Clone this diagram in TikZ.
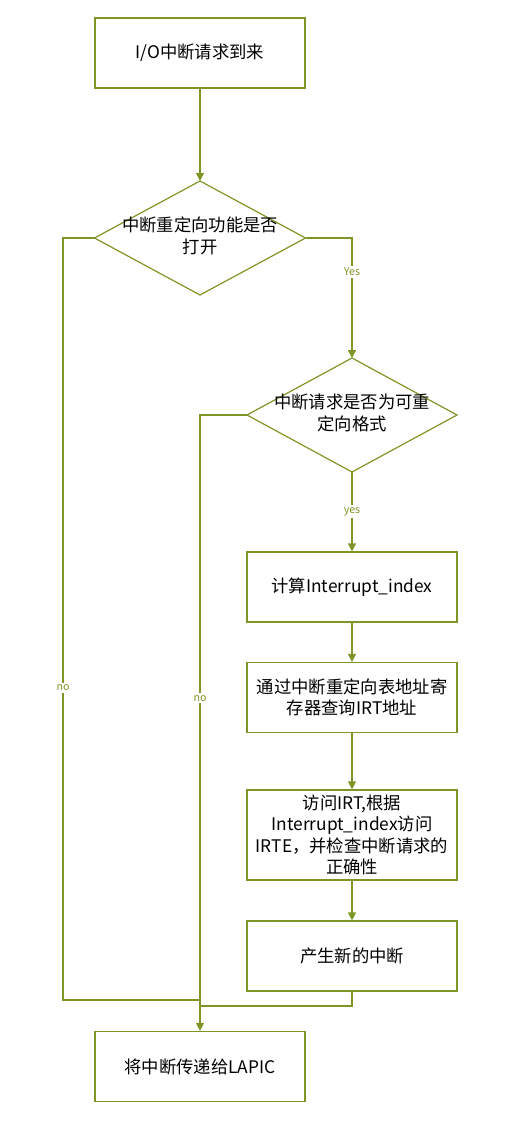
\documentclass[tikz,border=0pt]{standalone}
\usepackage{fontspec}
\setmainfont{Noto Sans CJK SC}
\usetikzlibrary{arrows.meta}

\definecolor{flowgreen}{RGB}{125,150,38}
\tikzset{
  box/.style={draw=flowgreen, line width=0.9pt, minimum width=157.5pt, minimum height=52.5pt,
    align=center, font=\fontsize{13}{16}\selectfont},
  dtext/.style={align=center, font=\fontsize{13}{16}\selectfont},
  line/.style={draw=flowgreen, line width=0.9pt},
  flow/.style={line, -{Triangle[width=6pt,length=6pt]}},
  lbl/.style={fill=white, text=flowgreen, inner sep=1.5pt, font=\fontsize{8}{9}\selectfont}
}

\begin{document}
\begin{tikzpicture}[x=0.75pt, y=-0.75pt]
  \useasboundingbox (0,0) rectangle (507,1124);

  \node [box] (start) at (200,53) {I/O中断请求到来};

  % first decision
  \coordinate (d1top)   at (200,181);
  \coordinate (d1right) at (305.5,238);
  \coordinate (d1bot)   at (200,295);
  \coordinate (d1left)  at (94.5,238);
  \draw [line] (d1top) -- (d1right) -- (d1bot) -- (d1left) -- cycle;
  \node [dtext] (d1) at (200,236) {中断重定向功能是否\\打开};

  % second decision
  \coordinate (d2top)   at (352,358);
  \coordinate (d2right) at (457,415);
  \coordinate (d2bot)   at (352,472);
  \coordinate (d2left)  at (247,415);
  \draw [line] (d2top) -- (d2right) -- (d2bot) -- (d2left) -- cycle;
  \node [dtext] (d2) at (352,413) {中断请求是否为可重\\定向格式};

  \node [box] (calc)  at (352,587)   {计算Interrupt\_index};
  \node [box] (query) at (352,697.5) {通过中断重定向表地址寄\\存器查询IRT地址};
  \node [box, minimum height=67.5pt] (check) at (352,835)
        {访问IRT,根据\\Interrupt\_index访问\\IRTE，并检查中断请求的\\正确性};
  \node [box] (newint) at (352,956)  {产生新的中断};
  \node [box] (lapic)  at (200,1066.5) {将中断传递给LAPIC};

  \coordinate (nocorner) at (63,1000);
  \coordinate (merge)    at (200,1000);
  \coordinate (newout)   at (352,1006);
  \coordinate (merge2)   at (200,1006);

  \draw [flow] (start) -- (d1top);
  \draw [flow] (d1right) -| node [lbl, pos=0.64] {Yes} (d2top);
  \draw [flow] (d2bot) -- node [lbl] {yes} (calc);
  \draw [flow] (calc) -- (query);
  \draw [flow] (query) -- (check);
  \draw [flow] (check) -- (newint);

  \draw [line] (d1left) -| node [lbl, pos=0.795] {no} (nocorner) -- (merge);
  \draw [flow] (d2left) -| node [lbl, pos=0.73] {no} (lapic.north);
  \draw [line] (newint) -- (newout) -- (merge2);
\end{tikzpicture}
\end{document}
